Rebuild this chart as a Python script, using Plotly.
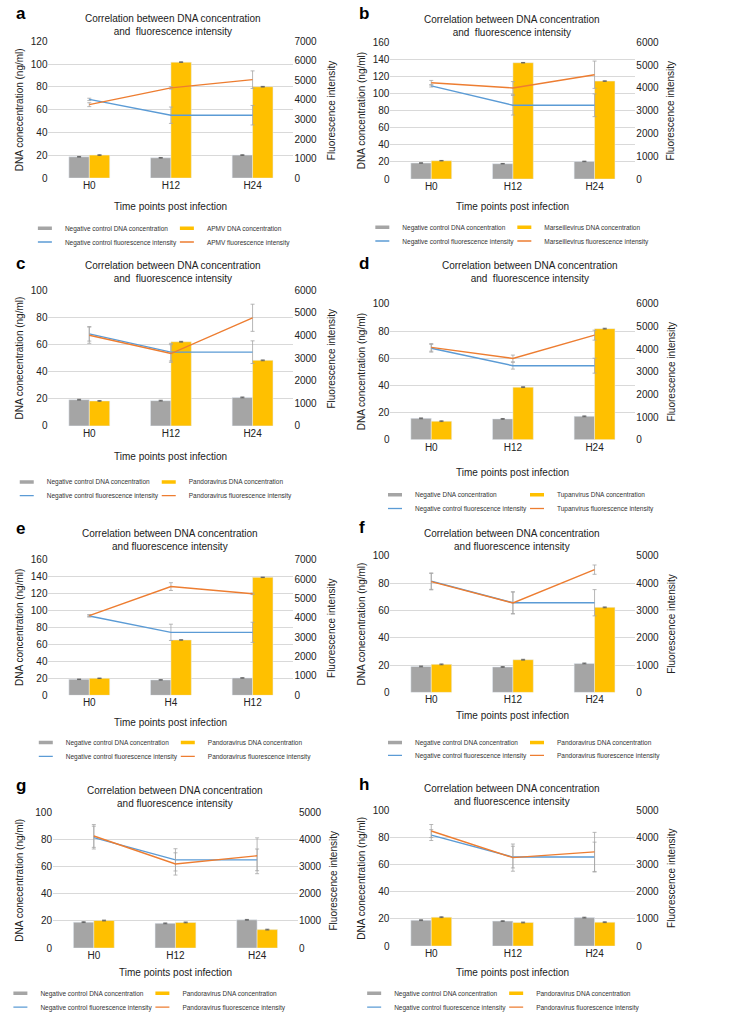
import plotly.graph_objects as go

W, H = 732, 1022
GREY = "#A5A5A5"
YELLOW = "#FFC000"
BLUE = "#5B9BD5"
ORANGE = "#ED7D31"
FONT = "Liberation Sans, Arial, sans-serif"

# ---------------- data ----------------
cats_std = ["H0", "H12", "H24"]
cats_e = ["H0", "H4", "H12"]

# panel a (APMV)
a_neg_dna = [18.7, 17.8, 20.2]
a_vir_dna = [20.2, 101.8, 80.2]
a_neg_fl = [4030, 3220, 3220]
a_vir_fl = [3760, 4620, 5040]
a_neg_fl_err = [60, 420, 500]
a_vir_fl_err = [100, 60, 450]

# panel b (Marseillevirus)
b_neg_dna = [18.8, 18.0, 20.7]
b_vir_dna = [21.5, 136.2, 114.7]
b_neg_fl = [4090, 3240, 3240]
b_vir_fl = [4230, 4000, 4580]
b_neg_fl_err = [50, 430, 500]
b_vir_fl_err = [100, 280, 600]

# panel c (Pandoravirus)
c_neg_dna = [19.3, 18.6, 21.0]
c_vir_dna = [18.4, 62.0, 48.3]
c_neg_fl = [4070, 3260, 3260]
c_vir_fl = [4010, 3200, 4780]
c_neg_fl_err = [320, 390, 500]
c_vir_fl_err = [360, 390, 600]

# panel d (Tupanvirus)
d_neg_dna = [15.7, 15.3, 17.2]
d_vir_dna = [13.6, 38.7, 81.8]
d_neg_fl = [4040, 3270, 3270]
d_vir_fl = [4080, 3590, 4620]
d_neg_fl_err = [170, 150, 330]
d_vir_fl_err = [170, 150, 220]

# panel e (Pandoravirus, H0/H4/H12)
e_neg_dna = [18.9, 18.2, 20.5]
e_vir_dna = [20.1, 65.3, 139.1]
e_neg_fl = [4090, 3250, 3250]
e_vir_fl = [4110, 5610, 5240]
e_neg_fl_err = [50, 420, 520]
e_vir_fl_err = [50, 200, 40]

# panel f (Pandoravirus)
f_neg_dna = [19.0, 18.6, 21.2]
f_vir_dna = [20.5, 23.9, 62.2]
f_neg_fl = [4070, 3280, 3280]
f_vir_fl = [4050, 3270, 4490]
f_neg_fl_err = [300, 400, 480]
f_vir_fl_err = [300, 400, 170]

# panel g (Pandoravirus)
g_neg_dna = [19.1, 18.2, 20.8]
g_vir_dna = [20.3, 18.9, 13.6]
g_neg_fl = [4070, 3250, 3250]
g_vir_fl = [4130, 3100, 3400]
g_neg_fl_err = [420, 410, 400]
g_vir_fl_err = [420, 410, 660]

# panel h (Pandoravirus)
h_neg_dna = [19.1, 18.4, 21.0]
h_vir_dna = [21.3, 17.4, 17.6]
h_neg_fl = [4090, 3280, 3280]
h_vir_fl = [4240, 3260, 3470]
h_neg_fl_err = [200, 400, 550]
h_vir_fl_err = [240, 500, 720]

bar_err = [0.3, 0.3, 0.3]

names_apmv = ["Negative control DNA concentration", "APMV DNA concentration",
              "Negative control fluorescence intensity", "APMV fluorescence intensity"]
names_mars = ["Negative control DNA concentration", "Marseillevirus DNA concentration",
              "Negative control fluorescence intensity", "Marseillevirus fluorescence intensity"]
names_pand = ["Negative control DNA concentration", "Pandoravirus DNA concentration",
              "Negative control fluorescence intensity", "Pandoravirus fluorescence intensity"]
names_tupa = ["Negative DNA concentration", "Tupanvirus DNA concentration",
              "Negative control fluorescence intensity", "Tupanvirus fluorescence intensity"]

title_1 = "Correlation between DNA concentration<br>and  fluorescence intensity"
title_2 = "Correlation between DNA concentration<br>and fluorescence intensity"
ytitle_typo = "DNA conecentration (ng/ml)"
ytitle_ok = "DNA concentration (ng/ml)"
ytitle_right = "Fluorescence intensity"
xtitle = "Time points post infection"

panels = [
    dict(letter="a", cats=cats_std, data=(a_neg_dna, a_vir_dna, a_neg_fl, a_vir_fl, a_neg_fl_err, a_vir_fl_err),
         names=names_apmv, title=title_1, ytitle=ytitle_typo, yl=(120, 20), yr=(7000, 1000)),
    dict(letter="b", cats=cats_std, data=(b_neg_dna, b_vir_dna, b_neg_fl, b_vir_fl, b_neg_fl_err, b_vir_fl_err),
         names=names_mars, title=title_1, ytitle=ytitle_ok, yl=(160, 20), yr=(6000, 1000)),
    dict(letter="c", cats=cats_std, data=(c_neg_dna, c_vir_dna, c_neg_fl, c_vir_fl, c_neg_fl_err, c_vir_fl_err),
         names=names_pand, title=title_1, ytitle=ytitle_typo, yl=(100, 20), yr=(6000, 1000)),
    dict(letter="d", cats=cats_std, data=(d_neg_dna, d_vir_dna, d_neg_fl, d_vir_fl, d_neg_fl_err, d_vir_fl_err),
         names=names_tupa, title=title_1, ytitle=ytitle_ok, yl=(100, 20), yr=(6000, 1000)),
    dict(letter="e", cats=cats_e, data=(e_neg_dna, e_vir_dna, e_neg_fl, e_vir_fl, e_neg_fl_err, e_vir_fl_err),
         names=names_pand, title=title_2, ytitle=ytitle_ok, yl=(160, 20), yr=(7000, 1000)),
    dict(letter="f", cats=cats_std, data=(f_neg_dna, f_vir_dna, f_neg_fl, f_vir_fl, f_neg_fl_err, f_vir_fl_err),
         names=names_pand, title=title_2, ytitle=ytitle_typo, yl=(100, 20), yr=(5000, 1000)),
    dict(letter="g", cats=cats_std, data=(g_neg_dna, g_vir_dna, g_neg_fl, g_vir_fl, g_neg_fl_err, g_vir_fl_err),
         names=names_pand, title=title_2, ytitle=ytitle_typo, yl=(100, 20), yr=(5000, 1000)),
    dict(letter="h", cats=cats_std, data=(h_neg_dna, h_vir_dna, h_neg_fl, h_vir_fl, h_neg_fl_err, h_vir_fl_err),
         names=names_pand, title=title_2, ytitle=ytitle_typo, yl=(100, 20), yr=(5000, 1000)),
]

# ---------------- geometry (pixels) ----------------
geom = [
    dict(plot=(38, 308, 36, 175), tx=175, ty=19, xty=204, yl_x=6, yr_x=350, lx=52, lrows=(226, 240), let=(0, 8)),
    dict(plot=(415, 685, 37, 176), tx=549, ty=20, xty=204, yl_x=383, yr_x=724, lx=424, lrows=(225, 239), let=(378, 8)),
    dict(plot=(38, 308, 289, 427), tx=175, ty=271, xty=458, yl_x=6, yr_x=350, lx=32, lrows=(484, 498), let=(0, 262)),
    dict(plot=(415, 685, 303, 441), tx=569, ty=271, xty=474, yl_x=383, yr_x=725, lx=438, lrows=(497, 511), let=(378, 262)),
    dict(plot=(38, 308, 563, 701), tx=172, ty=543, xty=729, yl_x=6, yr_x=350, lx=53, lrows=(749, 763), let=(0, 531)),
    dict(plot=(415, 685, 559, 698), tx=549, ty=543, xty=722, yl_x=383, yr_x=724, lx=438, lrows=(749, 762), let=(378, 530)),
    dict(plot=(43, 313, 820, 958), tx=177, ty=804, xty=983, yl_x=6, yr_x=352, lx=25, lrows=(1004, 1018), let=(0, 793)),
    dict(plot=(415, 685, 818, 956), tx=549, ty=802, xty=983, yl_x=383, yr_x=725, lx=415, lrows=(1004, 1018), let=(378, 792)),
]
LEG_STEP = 142  # horizontal distance between the two entries of a legend row


def px(xp):
    return xp / W


def py(yp):
    return 1 - yp / H


fig = go.Figure()
lay = {}
annotations = []

for i, (p, g) in enumerate(zip(panels, geom)):
    xid = "x" if i == 0 else f"x{i + 1}"
    xname = "xaxis" if i == 0 else f"xaxis{i + 1}"
    yl_n, yr_n = 2 * i + 1, 2 * i + 2
    ylid = "y" if yl_n == 1 else f"y{yl_n}"
    ylname = "yaxis" if yl_n == 1 else f"yaxis{yl_n}"
    yrid = f"y{yr_n}"
    yrname = f"yaxis{yr_n}"
    leg1 = "legend" if i == 0 else f"legend{2 * i + 1}"
    leg2 = f"legend{2 * i + 2}"
    neg_dna, vir_dna, neg_fl, vir_fl, neg_err, vir_err = p["data"]
    cats = p["cats"]
    n0, n1, n2, n3 = p["names"]

    bar_err_style = dict(type="data", array=bar_err, color="#595959", thickness=0.8, width=2)
    line_err = "#A6A6A6"
    fig.add_trace(go.Bar(x=cats, y=neg_dna, name=n0, marker_color=GREY, xaxis=xid, yaxis=ylid,
                         showlegend=False, error_y=bar_err_style))
    fig.add_trace(go.Bar(x=cats, y=vir_dna, name=n1, marker_color=YELLOW, xaxis=xid, yaxis=ylid,
                         showlegend=False, error_y=bar_err_style))
    fig.add_trace(go.Scatter(x=cats, y=neg_fl, name=n2, mode="lines", line=dict(color=BLUE, width=1.4),
                             xaxis=xid, yaxis=yrid, showlegend=False,
                             error_y=dict(type="data", array=neg_err, color=line_err, thickness=0.8, width=2)))
    fig.add_trace(go.Scatter(x=cats, y=vir_fl, name=n3, mode="lines", line=dict(color=ORANGE, width=1.4),
                             xaxis=xid, yaxis=yrid, showlegend=False,
                             error_y=dict(type="data", array=vir_err, color=line_err, thickness=0.8, width=2)))

    # legend keys (Excel-style short bar / short line symbols)
    for nm, col, lw, sz, leg, lwid in ((n0, GREY, 3.5, 10, leg1, LEG_STEP - 45),
                                       (n1, YELLOW, 3.5, 10, leg1, 170),
                                       (n2, BLUE, 1.3, 10, leg2, LEG_STEP - 45),
                                       (n3, ORANGE, 1.3, 10, leg2, 170)):
        fig.add_trace(go.Scatter(x=[None], y=[None], name=nm, mode="markers", xaxis=xid, yaxis=ylid,
                                 legend=leg, legendwidth=lwid, hoverinfo="skip",
                                 marker=dict(symbol="line-ew", size=sz, color=col,
                                             line=dict(color=col, width=lw))))

    l, r, t, b = g["plot"]
    lay[xname] = dict(domain=[px(l), px(r)], anchor=ylid, type="category", showgrid=False,
                      zeroline=False, showline=False, ticks="", tickfont=dict(size=10, color="#222"))
    lay[ylname] = dict(domain=[py(b), py(t)], anchor=xid, range=[0, p["yl"][0]], dtick=p["yl"][1],
                       showgrid=True, gridcolor="#D9D9D9", gridwidth=1, zeroline=False, showline=False,
                       ticks="", tickfont=dict(size=10, color="#222"))
    lay[yrname] = dict(overlaying=ylid, side="right", anchor=xid, range=[0, p["yr"][0]], dtick=p["yr"][1],
                       showgrid=False, zeroline=False, showline=False, ticks="",
                       tickfont=dict(size=10, color="#222"))

    for legname, row in ((leg1, g["lrows"][0]), (leg2, g["lrows"][1])):
        lay[legname] = dict(x=px(g["lx"] - 40), xanchor="left", y=py(row), yanchor="middle",
                            orientation="h", font=dict(size=6.5, color="#333"), bgcolor="rgba(0,0,0,0)",
                            itemclick=False, itemdoubleclick=False, tracegroupgap=0)

    annotations += [
        dict(text=p["title"], x=px(g["tx"]), y=py(g["ty"]), xref="paper", yref="paper",
             xanchor="center", yanchor="middle", showarrow=False, font=dict(size=10, color="#222")),
        dict(text=xtitle, x=px((l + r) / 2), y=py(g["xty"]), xref="paper", yref="paper",
             xanchor="center", yanchor="middle", showarrow=False, font=dict(size=10, color="#222")),
        dict(text=p["ytitle"], x=px(g["yl_x"]), y=py((t + b) / 2), xref="paper", yref="paper",
             xanchor="center", yanchor="middle", textangle=-90, showarrow=False,
             font=dict(size=10, color="#222")),
        dict(text=ytitle_right, x=px(g["yr_x"]), y=py((t + b) / 2), xref="paper", yref="paper",
             xanchor="center", yanchor="middle", textangle=-90, showarrow=False,
             font=dict(size=10, color="#222")),
        dict(text="<b>" + p["letter"] + "</b>", x=px(g["let"][0]), y=py(g["let"][1]), xref="paper",
             yref="paper", xanchor="left", yanchor="middle", showarrow=False,
             font=dict(size=17, color="#000")),
    ]

fig.update_layout(**lay)
fig.update_layout(
    width=W, height=H, margin=dict(l=0, r=0, t=0, b=0, pad=0),
    paper_bgcolor="white", plot_bgcolor="white",
    barmode="group", bargap=0.5, bargroupgap=0,
    font=dict(family=FONT, size=10, color="#222"),
    annotations=annotations, showlegend=True,
)

fig.write_html("out.html", config={"displayModeBar": False},
               post_script="document.body.style.margin='0';document.body.style.overflow='hidden';")
